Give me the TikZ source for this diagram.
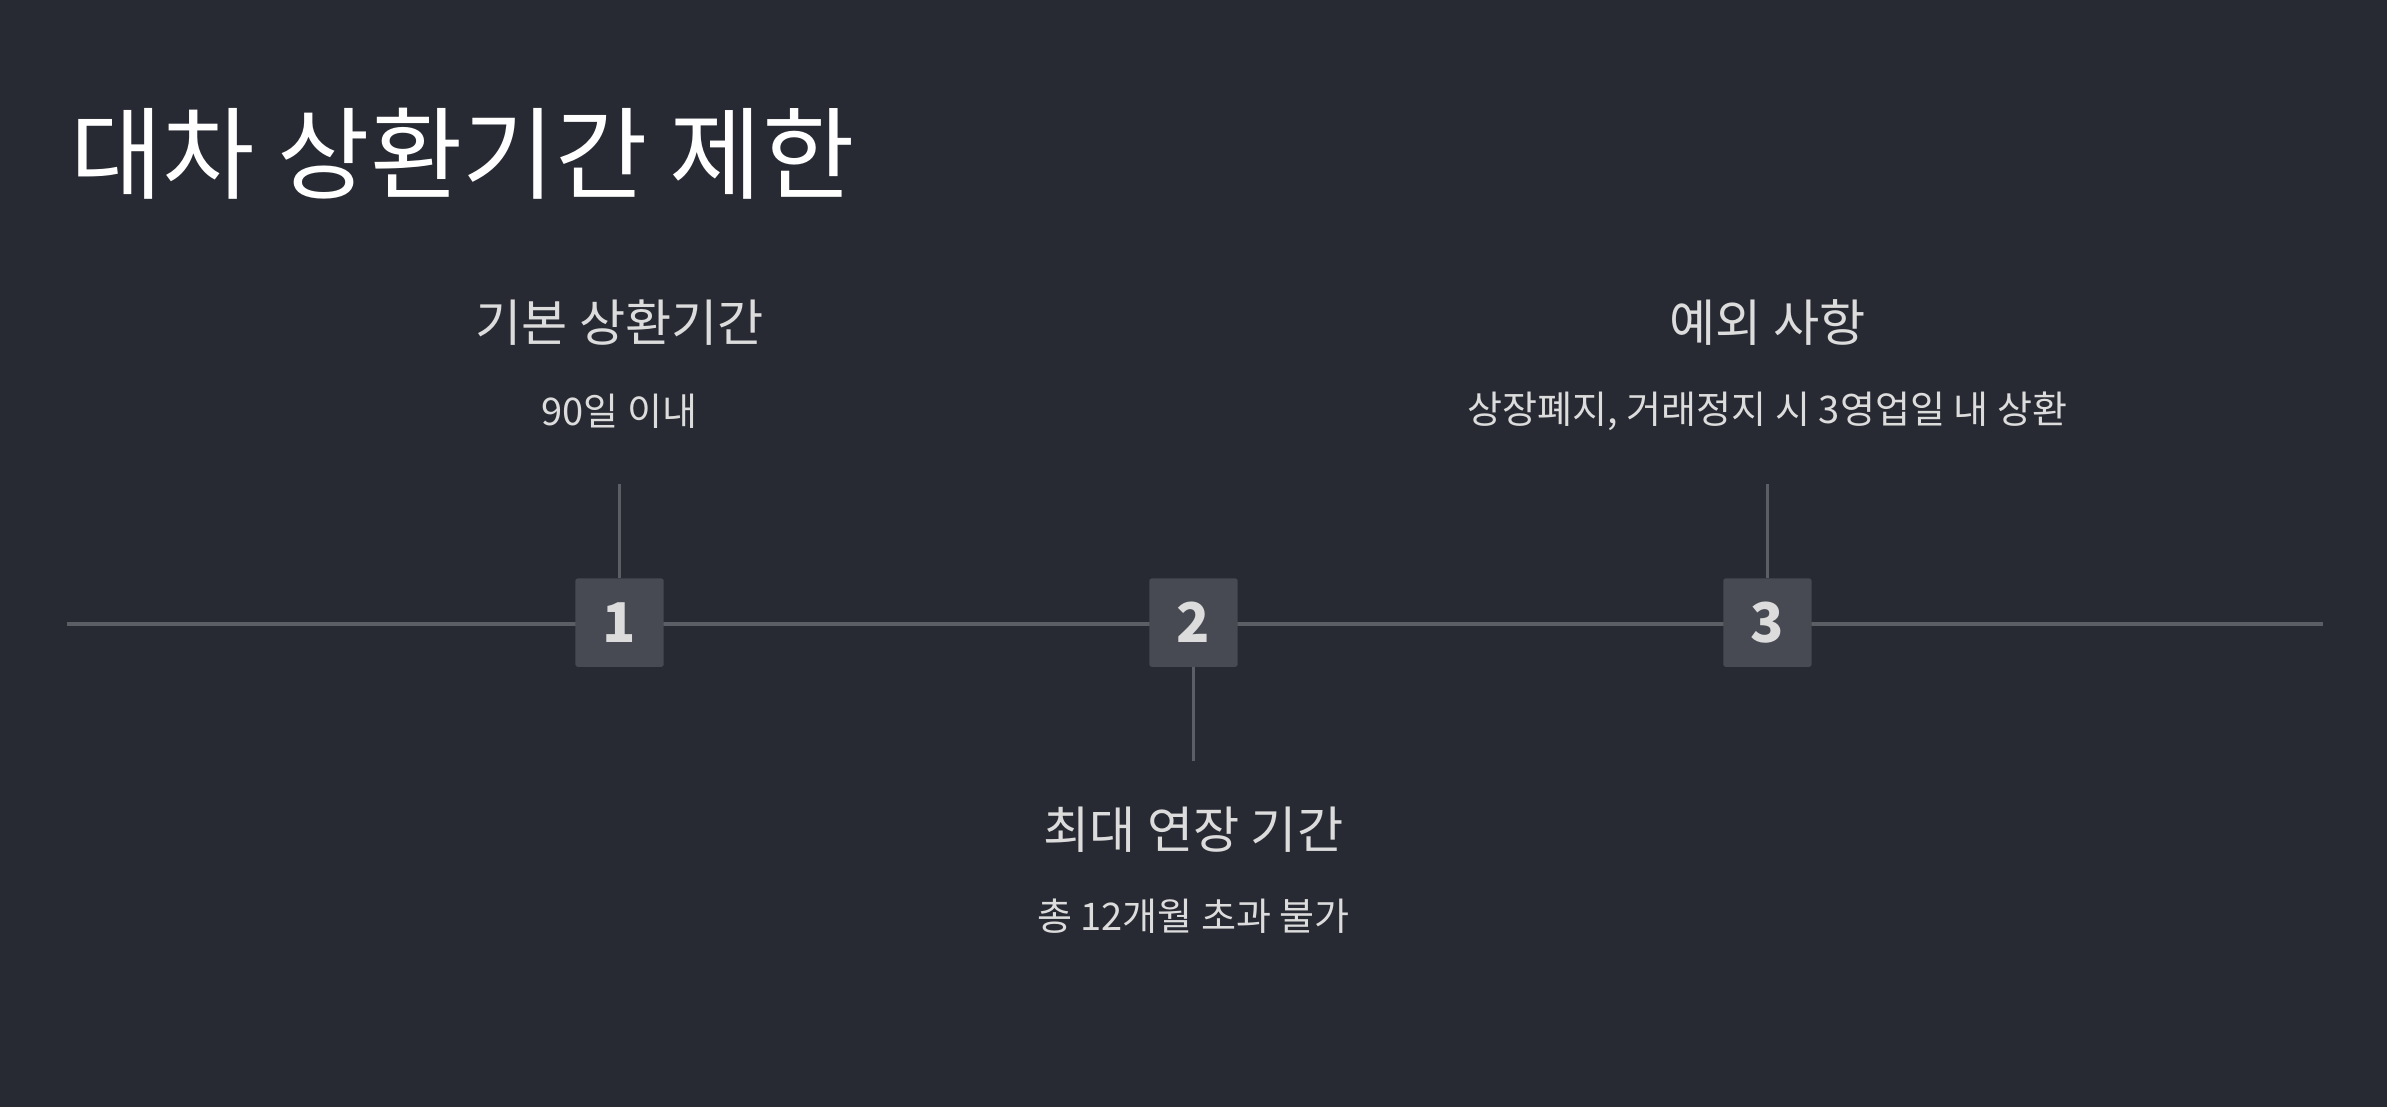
\documentclass[tikz,border=0pt]{standalone}
\usepackage{fontspec}
\setmainfont{Noto Sans CJK KR}
\definecolor{bg}{HTML}{282A33}
\definecolor{lin}{HTML}{5C5E66}
\definecolor{boxc}{HTML}{474A52}
\definecolor{txt}{HTML}{DCDCDC}
\begin{document}
\begin{tikzpicture}[x=1pt,y=-1pt,
  numbox/.style={fill=boxc,rounded corners=1.5pt,minimum size=58pt,inner sep=0pt,text=txt,font=\fontsize{36}{40}\selectfont\bfseries},
  head/.style={text=txt,font=\fontsize{33}{38}\selectfont,inner sep=0pt},
  sub/.style={text=txt,font=\fontsize{25}{30}\selectfont,inner sep=0pt},
  stub/.style={draw=lin,line width=2.5pt}]
\fill[bg] (0,0) rectangle (1568,727);
\useasboundingbox (0,0) rectangle (1568,727);
\node[anchor=base west,text=white,inner sep=0pt,font=\fontsize{66}{72}\selectfont] (title) at (46,126) {대차 상환기간 제한};
\coordinate (L) at (44,410); \coordinate (R) at (1526,410);
\draw[stub] (L) -- (R);
\coordinate (t1) at (407,318); \coordinate (t2) at (784,500); \coordinate (t3) at (1161,318);
\node[numbox] (b1) at (407,409) {1};
\node[numbox] (b2) at (784,409) {2};
\node[numbox] (b3) at (1161,409) {3};
\draw[stub] (t1) -- (b1.north);
\draw[stub] (b2.south) -- (t2);
\draw[stub] (t3) -- (b3.north);
\node[head] (h1) at (407,212) {기본 상환기간};
\node[sub] (s1) at (407,270) {90일 이내};
\node[head] (h3) at (1161,212) {예외 사항};
\node[sub] (s3) at (1161,270) {상장폐지, 거래정지 시 3영업일 내 상환};
\node[head] (h2) at (784,545) {최대 연장 기간};
\node[sub] (s2) at (784,602) {총 12개월 초과 불가};
\end{tikzpicture}
\end{document}
